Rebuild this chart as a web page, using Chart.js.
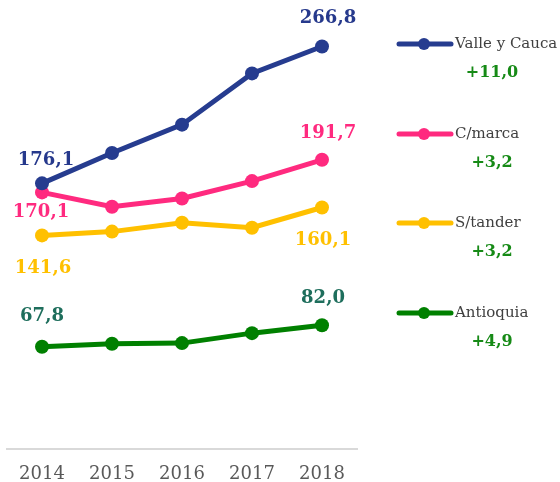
<!DOCTYPE html>
<html>
<head>
<meta charset="utf-8">
<script src="https://cdn.jsdelivr.net/npm/chart.js@4/dist/chart.umd.min.js"></script>
<style>
  html, body { margin: 0; padding: 0; background: #fff; }
  #wrap { width: 560px; height: 482px; }
</style>
</head>
<body>
<div id="wrap"><canvas id="chart" width="560" height="482"></canvas></div>
<script>
// datos
const years = ["2014", "2015", "2016", "2017", "2018"];
const valleCauca = [176.1, 196.2, 215.0, 249.0, 266.8];
const cundinamarca = [170.1, 160.6, 166.1, 177.6, 191.7];
const santander = [141.6, 144.1, 150.0, 146.7, 160.1];
const antioquia = [67.8, 69.8, 70.2, 76.8, 82.0];
const seriesNames = ["Valle y Cauca", "C/marca", "S/tander", "Antioquia"];
const growth = ["+11,0", "+3,2", "+3,2", "+4,9"];

const FONT = "'DejaVu Serif', 'Liberation Serif', serif";
const fmt = (v) => v.toFixed(1).replace(".", ",");

// etiquetas de primer y último punto (dx, dy relativo al punto)
const labelStyle = [
  { color: "#26398c", first: [4, -23], last: [6, -28] },
  { color: "#ff2a7f", first: [-1, 20], last: [6, -26] },
  { color: "#ffc000", first: [1, 33], last: [1, 33] },
  { color: "#1e6e5c", first: [0, -30], last: [1, -27] },
];
const legendY = [44, 134, 223, 313];

const endLabels = {
  id: "endLabels",
  afterDatasetsDraw(chart) {
    const ctx = chart.ctx;
    ctx.save();
    ctx.font = "bold 18px " + FONT;
    ctx.textAlign = "center";
    ctx.textBaseline = "middle";
    chart.data.datasets.forEach((ds, i) => {
      const pts = chart.getDatasetMeta(i).data;
      const st = labelStyle[i];
      ctx.fillStyle = st.color;
      const a = pts[0], b = pts[pts.length - 1];
      ctx.fillText(fmt(ds.data[0]), a.x + st.first[0], a.y + st.first[1]);
      ctx.fillText(fmt(ds.data[ds.data.length - 1]), b.x + st.last[0], b.y + st.last[1]);
    });
    ctx.restore();
  },
};

const sideLegend = {
  id: "sideLegend",
  afterDraw(chart) {
    const ctx = chart.ctx;
    ctx.save();
    chart.data.datasets.forEach((ds, i) => {
      const y = legendY[i];
      ctx.strokeStyle = ds.borderColor;
      ctx.lineWidth = 5;
      ctx.lineCap = "round";
      ctx.beginPath();
      ctx.moveTo(399, y);
      ctx.lineTo(451, y);
      ctx.stroke();
      ctx.fillStyle = ds.borderColor;
      ctx.beginPath();
      ctx.arc(424, y, 6, 0, Math.PI * 2);
      ctx.fill();
      ctx.fillStyle = "#404040";
      ctx.font = "15px " + FONT;
      ctx.textAlign = "left";
      ctx.textBaseline = "middle";
      ctx.fillText(ds.label, 455, y);
      ctx.fillStyle = "#168a16";
      ctx.font = "bold 16px " + FONT;
      ctx.textAlign = "center";
      ctx.fillText(growth[i], 492, y + 29);
    });
    ctx.restore();
  },
};

const colors = ["#263c8f", "#ff2a7f", "#ffc000", "#008000"];
const series = [valleCauca, cundinamarca, santander, antioquia];

new Chart(document.getElementById("chart"), {
  type: "line",
  data: {
    labels: years,
    datasets: series.map((d, i) => ({
      label: seriesNames[i],
      data: d,
      borderColor: colors[i],
      backgroundColor: colors[i],
      borderWidth: 5,
      pointRadius: 7,
      pointHoverRadius: 7,
      pointBorderWidth: 0,
      tension: 0,
      clip: false,
    })),
  },
  options: {
    responsive: false,
    animation: false,
    layout: { padding: { left: 3, right: 203, top: 2, bottom: 0 } },
    scales: {
      y: { display: false, min: 0, max: 293 },
      x: {
        offset: true,
        grid: { display: false, drawTicks: false },
        border: { color: "#d9d9d9", width: 2 },
        ticks: { color: "#595959", font: { family: FONT, size: 18 }, padding: 15 },
        afterFit(scale) { scale.height = 33; },
      },
    },
    plugins: {
      legend: { display: false },
      tooltip: { enabled: false },
    },
  },
  plugins: [endLabels, sideLegend],
});
</script>
</body>
</html>
